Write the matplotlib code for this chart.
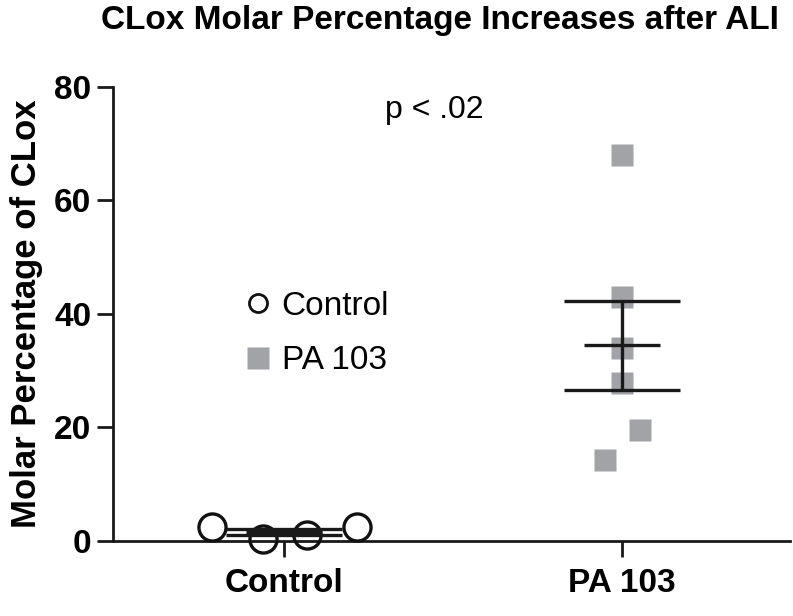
import numpy as np
import matplotlib
matplotlib.use('Agg')
import matplotlib.pyplot as plt
from matplotlib.lines import Line2D

plt.rcParams['font.family'] = ['Liberation Sans', 'DejaVu Sans']

groups = ['Control', 'PA 103']
control_vals = [2.45, 0.35, 1.05, 2.45]
control_dx = [-0.213, -0.062, 0.068, 0.216]
pa_vals = [68.0, 43.0, 34.0, 27.8, 19.6, 14.3]
pa_dx = [0.0, 0.0, 0.0, 0.0, 0.053, -0.05]
gray = '#a1a3a6'

fig = plt.figure(figsize=(7.93, 6.16), dpi=100)
ax = fig.add_axes([0.1425, 0.1218, 0.8537, 0.737])

# error bars (mean +/- SEM) for each group
for i, vals in enumerate([control_vals, pa_vals]):
    v = np.array(vals)
    m = v.mean()
    sem = v.std(ddof=1) / np.sqrt(len(v))
    ax.hlines(m, i - 0.112, i + 0.112, color='#1a1a1a', lw=2.4, zorder=4)
    ax.hlines([m - sem, m + sem], i - 0.171, i + 0.171, color='#1a1a1a', lw=2.4, zorder=4)
    ax.vlines(i, m - sem, m + sem, color='#1a1a1a', lw=2.4, zorder=4)

ax.plot(np.array(control_dx), control_vals, 'o', ms=19.5, mfc='none', mec='#111111',
        mew=2.4, zorder=3, clip_on=False)
ax.plot(1 + np.array(pa_dx), pa_vals, 's', ms=16, mfc=gray, mec='none', zorder=2)

ax.set_xlim(-0.506, 1.497)
ax.set_ylim(0, 80)
ax.set_xticks([0, 1])
ax.set_xticklabels(groups, fontsize=24, fontweight='bold')
ax.set_yticks([0, 20, 40, 60, 80])
ax.set_yticklabels(['0', '20', '40', '60', '80'], fontsize=24, fontweight='bold')
ax.tick_params(axis='both', direction='out', length=11.5, width=2, color='#1a1a1a', pad=4)
ax.tick_params(axis='x', pad=8)
for s in ['top', 'right']:
    ax.spines[s].set_visible(False)
for s in ['left', 'bottom']:
    ax.spines[s].set_linewidth(2)
    ax.spines[s].set_color('#1a1a1a')

ax.set_ylabel('Molar Percentage of CLox', fontsize=25, fontweight='bold', labelpad=8)
fig.suptitle('CLox Molar Percentage Increases after ALI', fontsize=24, fontweight='bold',
             y=1 - 5 / 616, va='top', x=440 / 793)

ax.text(434 / 793, 1 - 110 / 616, 'p < .02', transform=fig.transFigure, fontsize=23,
        ha='center', va='center')

handles = [Line2D([], [], marker='o', ls='none', ms=13, mfc='none', mec='#111111', mew=2),
           Line2D([], [], marker='s', ls='none', ms=16, mfc=gray, mec='none')]
fig.legend(handles, groups, loc='upper left', bbox_to_anchor=(235 / 793, 1 - 291 / 616),
           frameon=False, fontsize=24, handletextpad=0.0, labelspacing=0.7,
           borderaxespad=0, borderpad=0, handlelength=1.4)

fig.savefig('out.png', dpi=100)
